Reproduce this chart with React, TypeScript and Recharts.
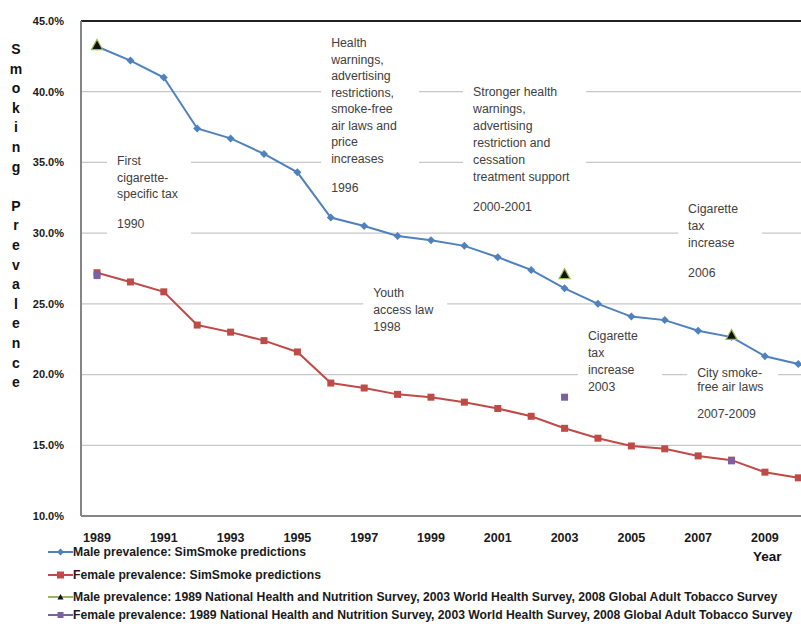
import {
  ComposedChart, Line, XAxis, YAxis, CartesianGrid, ReferenceLine, ReferenceDot,
} from 'recharts';

const years = [1989, 1990, 1991, 1992, 1993, 1994, 1995, 1996, 1997, 1998, 1999, 2000, 2001, 2002, 2003, 2004, 2005, 2006, 2007, 2008, 2009, 2010];
const maleSim = [43.2, 42.2, 41.0, 37.4, 36.7, 35.6, 34.3, 31.1, 30.5, 29.8, 29.5, 29.1, 28.3, 27.4, 26.1, 25.0, 24.1, 23.85, 23.1, 22.65, 21.3, 20.75];
const femaleSim = [27.2, 26.55, 25.85, 23.5, 23.0, 22.4, 21.6, 19.4, 19.05, 18.6, 18.4, 18.05, 17.6, 17.05, 16.2, 15.5, 14.95, 14.75, 14.25, 13.95, 13.1, 12.7];
const surveyYears = [1989, 2003, 2008];
const maleSurvey = [43.3, 27.1, 22.8];
const femaleSurvey = [27.0, 18.4, 13.9];

const xTicks = [1989, 1991, 1993, 1995, 1997, 1999, 2001, 2003, 2005, 2007, 2009];
const yTicks = [10, 15, 20, 25, 30, 35, 40, 45];

const legendLabels = [
  'Male prevalence: SimSmoke predictions',
  'Female prevalence: SimSmoke predictions',
  'Male prevalence: 1989 National Health and Nutrition Survey, 2003 World Health Survey, 2008 Global Adult Tobacco Survey',
  'Female prevalence: 1989 National Health and Nutrition Survey, 2003 World Health Survey, 2008 Global Adult Tobacco Survey',
];

// annotation texts ('' = small gap)
const note1990 = ['First', 'cigarette-', 'specific tax', '', '1990'];
const note1996 = ['Health', 'warnings,', 'advertising', 'restrictions,', 'smoke-free', 'air laws and', 'price', 'increases', '', '1996'];
const note2000 = ['Stronger health', 'warnings,', 'advertising', 'restriction and', 'cessation', 'treatment support', '', '2000-2001'];
const note2006 = ['Cigarette', 'tax', 'increase', '', '2006'];
const note1998 = ['Youth', 'access law', '1998'];
const note2003 = ['Cigarette', 'tax', 'increase', '2003'];
const note2007 = ['City smoke-', 'free air laws', '', '2007-2009'];

// anchor = first line, left edge (year, %), box width and line height in px
const notes = [
  { lines: note1990, year: 1989.6, pct: 35.1, w: 84, lh: 16.5 },
  { lines: note1996, year: 1996.01, pct: 43.44, w: 98, lh: 16.5 },
  { lines: note2000, year: 2000.26, pct: 39.98, w: 123, lh: 17 },
  { lines: note2006, year: 2006.7, pct: 31.7, w: 84, lh: 17 },
  { lines: note1998, year: 1997.27, pct: 25.76, w: 84, lh: 17 },
  { lines: note2003, year: 2003.7, pct: 22.72, w: 84, lh: 17 },
  { lines: note2007, year: 2006.97, pct: 20.11, w: 91, lh: 14 },
];

const rows = years.map((year, i) => {
  const s = surveyYears.indexOf(year);
  return {
    year,
    male: maleSim[i],
    female: femaleSim[i],
    maleSurvey: s >= 0 ? maleSurvey[s] : null,
    femaleSurvey: s >= 0 ? femaleSurvey[s] : null,
  };
});

const BLUE = '#4f81bd';
const RED = '#be4b48';
const GREEN = '#98b954';
const PURPLE = '#7d60a0';
const FONT = '"Liberation Sans", Arial, sans-serif';

const Diamond = (p: any) => {
  if (p.cy == null) return <g key={p.key} />;
  const { cx, cy } = p;
  return <polygon key={p.key} points={`${cx},${cy - 4} ${cx + 4},${cy} ${cx},${cy + 4} ${cx - 4},${cy}`} fill={BLUE} />;
};
const Square = (color: string, r: number) => (p: any) => {
  if (p.cy == null) return <g key={p.key} />;
  return <rect key={p.key} x={p.cx - r} y={p.cy - r} width={r * 2} height={r * 2} fill={color} />;
};
const Triangle = (p: any) => {
  if (p.cy == null) return <g key={p.key} />;
  const { cx, cy } = p;
  return <polygon key={p.key} points={`${cx},${cy - 5.5} ${cx + 5.5},${cy + 4.5} ${cx - 5.5},${cy + 4.5}`} fill="#111" stroke={GREEN} strokeWidth={1.2} />;
};

function Note({ cx, cy, lines, w, lh }: any) {
  let off = 0;
  const items: { t: string; o: number }[] = [];
  lines.forEach((t: string) => {
    if (t === '') { off += 13; return; }
    items.push({ t, o: off });
    off += lh;
  });
  const last = items[items.length - 1].o;
  return (
    <g>
      <rect x={cx - 10} y={cy - 11} width={w} height={last + 22} fill="#fff" />
      {items.map((it, i) => (
        <text key={i} x={cx} y={cy + it.o} dominantBaseline="central" fontSize={12.3} fontFamily={FONT} fill="#404040">{it.t}</text>
      ))}
    </g>
  );
}

function LegendMark({ i }: { i: number }) {
  const color = [BLUE, RED, GREEN, PURPLE][i];
  return (
    <svg width={25} height={10} style={{ display: 'block' }}>
      <line x1={0} y1={5} x2={25} y2={5} stroke={color} strokeWidth={2} />
      {i === 0 && <polygon points="12.5,1.5 16,5 12.5,8.5 9,5" fill={BLUE} />}
      {i === 1 && <rect x={9} y={1.5} width={7} height={7} fill={RED} />}
      {i === 2 && <polygon points="12.5,2 15.5,7.5 9.5,7.5" fill="#111" />}
      {i === 3 && <rect x={9.5} y={2} width={6} height={6} fill={PURPLE} />}
    </svg>
  );
}

export default function App() {
  const yLetters = 'Smoking Prevalence'.split('');
  return (
    <div style={{ position: 'fixed', left: 0, top: 0, width: 801, height: 624, background: '#fff', overflow: 'hidden', fontFamily: FONT }}>
      <ComposedChart width={801} height={624} data={rows} margin={{ top: 21, right: 0, bottom: 0, left: 0 }}>
        <CartesianGrid horizontal vertical={false} stroke="#c8c8c8" strokeWidth={1.2} />
        <XAxis
          dataKey="year" type="number" domain={[1988.52, 2010.08]} ticks={xTicks} allowDataOverflow
          height={108} tickLine={false} tickMargin={11} axisLine={{ stroke: '#858585', strokeWidth: 2 }}
          tick={{ fontSize: 12.5, fontWeight: 700, fill: '#1a1a1a', fontFamily: FONT }}
        />
        <YAxis
          type="number" domain={[10, 45]} ticks={yTicks} width={81} tickLine={false} tickMargin={11}
          axisLine={{ stroke: '#858585', strokeWidth: 2 }}
          tickFormatter={(v: number) => `${v.toFixed(1)}%`}
          tick={{ fontSize: 11, fontWeight: 700, fill: '#1a1a1a', fontFamily: FONT }}
        />
        <ReferenceLine y={45} stroke="#222" strokeWidth={2} />
        {notes.map((n, i) => (
          <ReferenceDot key={i} x={n.year} y={n.pct} ifOverflow="visible"
            shape={(p: any) => <Note cx={p.cx} cy={p.cy} lines={n.lines} w={n.w} lh={n.lh} />} />
        ))}
        <Line dataKey="male" stroke={BLUE} strokeWidth={2} dot={Diamond} activeDot={false} isAnimationActive={false} />
        <Line dataKey="female" stroke={RED} strokeWidth={2} dot={Square(RED, 3.5)} activeDot={false} isAnimationActive={false} />
        <Line dataKey="maleSurvey" stroke="none" dot={Triangle} activeDot={false} isAnimationActive={false} />
        <Line dataKey="femaleSurvey" stroke="none" dot={Square(PURPLE, 3.5)} activeDot={false} isAnimationActive={false} />
      </ComposedChart>

      <div style={{ position: 'absolute', left: 8, top: 40, width: 16, textAlign: 'center', fontSize: 14, fontWeight: 700, lineHeight: '19.6px', color: '#111' }}>
        {yLetters.map((c, i) => <div key={i} style={{ height: 19.6 }}>{c === ' ' ? '\u00a0' : c}</div>)}
      </div>

      <div style={{ position: 'absolute', left: 753, top: 549, fontSize: 13.5, fontWeight: 700, color: '#111' }}>Year</div>

      {legendLabels.map((label, i) => (
        <div key={i} style={{ position: 'absolute', left: 48, top: [552, 575, 597, 615][i] - 7, display: 'flex', alignItems: 'center', whiteSpace: 'nowrap' }}>
          <LegendMark i={i} />
          <span style={{ fontSize: 12.2, fontWeight: 700, color: '#1a1a1a', lineHeight: '14px' }}>{label}</span>
        </div>
      ))}
    </div>
  );
}
